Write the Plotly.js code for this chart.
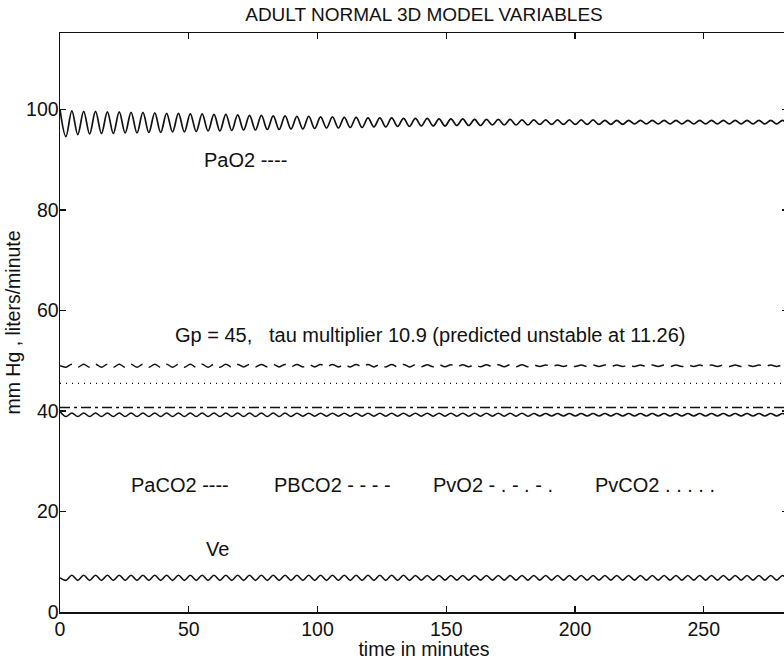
<!DOCTYPE html>
<html>
<head>
<meta charset="utf-8">
<script src="https://cdn.plot.ly/plotly-3.0.1.min.js"></script>
<style>html,body{margin:0;padding:0;background:#fff;overflow:hidden;}#chart{width:790px;height:660px;}</style>
</head>
<body>
<div id="chart"></div>
<script>
// time of each peak / trough (minutes)
const tExt = [0,2.3,4.6,6.9,9.2,11.5,13.8,16.1,18.4,20.7,
23,25.3,27.6,29.9,32.2,34.5,36.8,39.1,41.4,43.7,
46,48.3,50.6,52.9,55.2,57.5,59.8,62.1,64.4,66.7,
69,71.3,73.6,75.9,78.2,80.5,82.8,85.1,87.4,89.7,
92,94.3,96.6,98.9,101.2,103.5,105.8,108.1,110.4,112.7,
115,117.3,119.6,121.9,124.2,126.5,128.8,131.1,133.4,135.7,
138,140.3,142.6,144.9,147.2,149.5,151.8,154.1,156.4,158.7,
161,163.3,165.6,167.9,170.2,172.5,174.8,177.1,179.4,181.7,
184,186.3,188.6,190.9,193.2,195.5,197.8,200.1,202.4,204.7,
207,209.3,211.6,213.9,216.2,218.5,220.8,223.1,225.4,227.7,
230,232.3,234.6,236.9,239.2,241.5,243.8,246.1,248.4,250.7,
253,255.3,257.6,259.9,262.2,264.5,266.8,269.1,271.4,273.7,
276,278.3,280.6,282.9,285.2];

const paO2 = [100.0,94.6,99.7,95.0,99.6,95.1,99.6,95.2,99.5,95.2,
99.5,95.3,99.4,95.3,99.4,95.4,99.3,95.4,99.2,95.5,
99.2,95.5,99.1,95.6,99.1,95.7,99.0,95.7,99.0,95.8,
98.9,95.9,98.8,95.9,98.8,96.0,98.7,96.0,98.7,96.1,
98.6,96.1,98.6,96.2,98.5,96.3,98.5,96.3,98.4,96.4,
98.4,96.4,98.3,96.5,98.3,96.5,98.3,96.6,98.2,96.6,
98.2,96.7,98.2,96.7,98.1,96.7,98.1,96.8,98.1,96.8,
98.0,96.8,98.0,96.9,98.0,96.9,98.0,96.9,97.9,96.9,
97.9,97.0,97.9,97.0,97.9,97.0,97.9,97.0,97.9,97.0,
97.9,97.0,97.8,97.0,97.8,97.0,97.8,97.1,97.8,97.1,
97.8,97.1,97.8,97.1,97.8,97.1,97.8,97.1,97.8,97.1,
97.8,97.1,97.8,97.1,97.8,97.1,97.8,97.1,97.8,97.1,
97.8,97.1,97.8,97.1,97.8];

const paCO2 = [39.9,38.9,39.6,38.9,39.6,38.9,39.6,38.9,39.6,38.9,
39.6,38.9,39.6,38.9,39.6,38.9,39.6,38.9,39.6,38.9,
39.6,38.9,39.6,38.9,39.6,38.9,39.6,38.9,39.6,38.9,
39.6,38.9,39.6,38.9,39.6,38.9,39.6,38.9,39.6,38.9,
39.55,38.95,39.55,38.95,39.55,38.95,39.55,38.95,39.55,38.95,
39.55,38.95,39.55,38.95,39.55,38.95,39.55,38.95,39.55,38.95,
39.55,38.95,39.55,38.95,39.55,38.95,39.55,38.95,39.55,38.95,
39.55,38.95,39.55,38.95,39.55,38.95,39.55,38.95,39.55,38.95,
39.5,39.0,39.5,39.0,39.5,39.0,39.5,39.0,39.5,39.0,
39.5,39.0,39.5,39.0,39.5,39.0,39.5,39.0,39.5,39.0,
39.5,39.0,39.5,39.0,39.5,39.0,39.5,39.0,39.5,39.0,
39.5,39.0,39.5,39.0,39.5,39.0,39.5,39.0,39.5,39.0,
39.5,39.0,39.5,39.0,39.5];

const pbCO2 = [49.0,48.7,49.3,48.7,49.3,48.7,49.3,48.7,49.3,48.7,
49.3,48.7,49.3,48.7,49.3,48.7,49.3,48.7,49.3,48.7,
49.3,48.7,49.3,48.7,49.3,48.7,49.3,48.7,49.3,48.7,
49.25,48.75,49.25,48.75,49.25,48.75,49.25,48.75,49.25,48.75,
49.25,48.75,49.25,48.75,49.25,48.75,49.25,48.75,49.25,48.75,
49.25,48.75,49.25,48.75,49.25,48.75,49.25,48.75,49.25,48.75,
49.2,48.8,49.2,48.8,49.2,48.8,49.2,48.8,49.2,48.8,
49.2,48.8,49.2,48.8,49.2,48.8,49.2,48.8,49.2,48.8,
49.15,48.85,49.15,48.85,49.15,48.85,49.15,48.85,49.15,48.85,
49.15,48.85,49.15,48.85,49.15,48.85,49.15,48.85,49.15,48.85,
49.15,48.85,49.15,48.85,49.15,48.85,49.15,48.85,49.15,48.85,
49.15,48.85,49.15,48.85,49.15,48.85,49.15,48.85,49.15,48.85,
49.15,48.85,49.15,48.85,49.15];

const ve = [6.8,6.3,7.3,6.3,7.3,6.3,7.3,6.3,7.3,6.3,
7.3,6.3,7.3,6.3,7.3,6.3,7.3,6.3,7.3,6.3,
7.3,6.3,7.3,6.3,7.3,6.3,7.3,6.3,7.3,6.3,
7.3,6.3,7.3,6.3,7.3,6.3,7.3,6.3,7.3,6.3,
7.3,6.3,7.3,6.3,7.3,6.3,7.3,6.3,7.3,6.3,
7.3,6.3,7.3,6.3,7.3,6.3,7.3,6.3,7.3,6.3,
7.25,6.35,7.25,6.35,7.25,6.35,7.25,6.35,7.25,6.35,
7.25,6.35,7.25,6.35,7.25,6.35,7.25,6.35,7.25,6.35,
7.25,6.35,7.25,6.35,7.25,6.35,7.25,6.35,7.25,6.35,
7.25,6.35,7.25,6.35,7.25,6.35,7.25,6.35,7.25,6.35,
7.25,6.35,7.25,6.35,7.25,6.35,7.25,6.35,7.25,6.35,
7.25,6.35,7.25,6.35,7.25,6.35,7.25,6.35,7.25,6.35,
7.25,6.35,7.25,6.35,7.25];

// flat venous traces
const tFlat = [0, 285];
const pvO2 = [40.7, 40.7];
const pvCO2 = [45.5, 45.5];

const xTicks = [0, 50, 100, 150, 200, 250];
const yTicks = [0, 20, 40, 60, 80, 100];

const labels = ["PaO2 ----", "Gp = 45,&nbsp;&nbsp;&nbsp;tau multiplier 10.9 (predicted unstable at 11.26)",
  "PaCO2 ----", "PBCO2 - - - -", "PvO2 - . - . - .", "PvCO2 . . . . .", "Ve"];
const labelX = [55.3, 43.7, 26.6, 82.5, 144.0, 206.8, 56.0];
const labelY = [90.0, 55.1, 25.2, 25.2, 25.2, 25.2, 12.5];

const F = "Liberation Sans, Arial, Helvetica, sans-serif";
const ink = "#111";

const traces = [
  {x: tExt, y: paO2, mode: "lines", line: {color: ink, width: 1.7, shape: "spline", smoothing: 1}},
  {x: tExt, y: pbCO2, mode: "lines", line: {color: ink, width: 1.5, shape: "spline", dash: "13px,7px"}},
  {x: tFlat, y: pvCO2, mode: "lines", line: {color: ink, width: 1.2, dash: "1px,5px"}},
  {x: tFlat, y: pvO2, mode: "lines", line: {color: ink, width: 1.4, dash: "10px,4px,3px,4px"}},
  {x: tExt, y: paCO2, mode: "lines", line: {color: ink, width: 1.6, shape: "spline"}},
  {x: tExt, y: ve, mode: "lines", line: {color: ink, width: 1.6, shape: "spline"}}
];

const annotations = labels.map((s, i) => ({
  x: labelX[i], y: labelY[i], xref: "x", yref: "y", text: s, showarrow: false,
  font: {family: F, size: 20, color: ink}, xanchor: "left", yanchor: "middle"
}));

const layout = {
  width: 790, height: 660,
  margin: {l: 60, r: 2, t: 33, b: 48},
  paper_bgcolor: "#fff", plot_bgcolor: "#fff",
  showlegend: false,
  font: {family: F, size: 19.5, color: ink},
  title: {text: "ADULT NORMAL 3D MODEL VARIABLES", font: {family: F, size: 19, color: ink},
          xref: "paper", x: 0.5, xanchor: "center", yref: "container", y: 0.979, yanchor: "middle"},
  xaxis: {range: [0, 282.7], tickvals: xTicks, ticktext: xTicks.map(String), ticks: "inside", ticklen: 6,
          tickcolor: ink, tickwidth: 1.3, showline: true, linecolor: ink, linewidth: 1.5, mirror: "ticks",
          showgrid: false, zeroline: false, tickfont: {family: F, size: 19.5, color: ink},
          ticklabelstandoff: -1,
          title: {text: "time in minutes", font: {family: F, size: 19.5, color: ink}, standoff: 0}},
  yaxis: {range: [0, 115.2], tickvals: yTicks, ticktext: yTicks.map(String), ticks: "inside", ticklen: 6,
          tickcolor: ink, tickwidth: 1.3, showline: true, linecolor: ink, linewidth: 1.5, mirror: "ticks",
          showgrid: false, zeroline: false, tickfont: {family: F, size: 19.5, color: ink},
          ticklabelstandoff: -4,
          title: {text: "mm Hg , liters/minute", font: {family: F, size: 19.5, color: ink}, standoff: 0}},
  annotations: annotations
};

Plotly.newPlot("chart", traces, layout, {displayModeBar: false, staticPlot: true});
</script>
</body>
</html>
